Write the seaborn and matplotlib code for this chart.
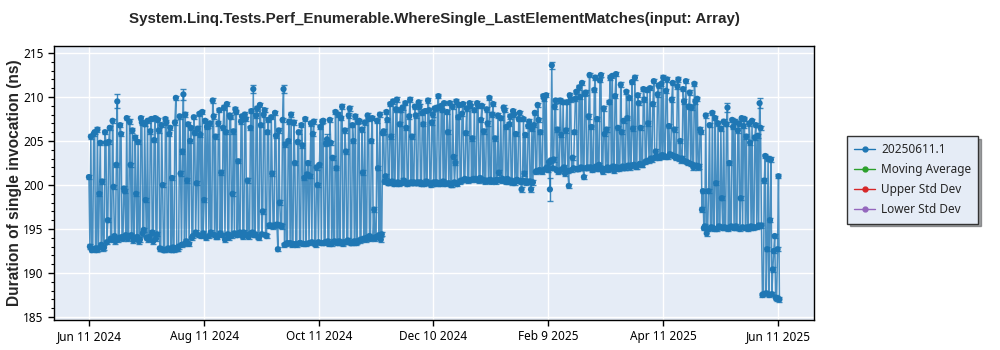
import matplotlib
matplotlib.use("Agg")
import numpy as np
import pandas as pd
import matplotlib.pyplot as plt
from matplotlib.lines import Line2D
from matplotlib.ticker import MultipleLocator
import seaborn as sns

# ---------------- data ----------------
# two measurements per day: "a" lists at 00:00, "b" lists at 12:00
jun24 = [200.9, 205.5, 192.7, 206.0, 192.6, 192.8, 204.8, 200.4, 192.9, 204.8,
         196.0, 206.5, 193.8, 199.8, 193.6, 209.5, 194.0, 205.8, 193.9, 199.3]
jul24 = [207.6, 194.2, 202.3, 206.2, 194.0, 199.0, 204.9, 193.8, 207.1, 194.9,
         198.3, 207.3, 194.1, 207.5, 193.6, 207.6, 194.4, 206.2, 192.7, 200.0,
         192.6, 207.1, 192.8, 206.5, 200.8, 192.6, 209.9, 192.7, 207.8, 193.2,
         210.3]
aug24 = [208.0, 200.5, 193.3, 206.5, 194.2, 205.9, 200.2, 194.3, 205.7, 208.3,
         198.3, 194.0, 206.7, 207.0, 194.4, 207.8, 205.5, 194.1, 208.5, 201.4,
         206.5, 193.8, 209.2, 194.0, 207.7, 199.0, 194.5, 208.3, 202.7, 194.6,
         207.8]
sep24 = [194.6, 207.5, 200.5, 194.4, 208.4, 210.9, 194.4, 208.7, 194.0, 206.8,
         197.0, 208.5, 194.2, 207.4, 195.4, 201.3, 195.4, 205.6, 192.7, 198.0,
         195.3, 210.9, 204.6, 193.4, 207.2, 208.0, 193.3, 202.5, 193.2, 206.0]
oct24 = [193.4, 204.5, 200.8, 193.3, 202.5, 201.0, 193.5, 207.2, 193.2, 200.0,
         202.3, 193.4, 207.3, 193.5, 205.2, 193.3, 204.8, 203.1, 193.6, 201.9,
         208.0, 193.4, 208.9, 193.5, 203.8, 193.7, 208.7, 193.4, 205.0, 207.8,
         193.6]
nov24 = [207.3, 193.8, 201.4, 207.1, 194.0, 207.5, 193.9, 207.6, 197.2, 194.1,
         201.9, 208.0, 194.4, 206.1, 201.0, 207.4, 200.3, 205.5, 209.5, 200.2,
         209.7, 200.1, 208.5, 208.8, 200.4, 206.5, 200.2, 209.7, 205.5, 200.3]
dec24 = [207.9, 200.3, 208.9, 200.1, 206.9, 208.4, 200.2, 208.5, 200.0, 208.0,
         208.7, 200.3, 210.1, 200.1, 208.5, 209.3, 200.2, 206.0, 209.3, 200.0,
         203.2, 202.5, 200.1, 209.1, 200.5, 209.2, 200.7, 208.7, 200.6, 209.0,
         205.3]
jan25 = [208.5, 200.6, 209.0, 200.8, 209.0, 206.1, 200.5, 207.0, 209.9, 200.4,
         209.2, 205.3, 200.6, 201.4, 207.6, 200.7, 208.5, 206.6, 200.4, 207.8,
         200.3, 208.0, 205.8, 200.5, 208.2, 199.5, 207.5, 205.7, 200.4, 207.2,
         199.5]
feb25 = [200.3, 208.2, 201.6, 207.4, 206.0, 201.5, 209.8, 210.2, 201.7, 199.5,
         213.6, 202.9, 209.6, 206.3, 201.6, 205.7, 209.4, 201.3, 209.4, 199.9,
         209.7, 203.1, 206.0, 210.6, 201.8, 210.0, 211.6, 200.9]
mar25 = [210.5, 202.0, 212.5, 206.6, 201.8, 212.2, 207.5, 202.3, 212.5, 201.5,
         205.8, 206.3, 201.7, 212.2, 212.4, 201.6, 212.6, 206.5, 201.9, 206.0,
         207.3, 202.0, 207.6, 209.9, 202.2, 206.4, 212.2, 202.1, 209.3, 206.5,
         202.3]
apr25 = [209.7, 202.7, 207.0, 211.0, 202.9, 211.8, 203.8, 210.3, 203.1, 211.5,
         212.2, 203.2, 212.0, 206.7, 203.4, 211.6, 206.3, 203.2, 212.0, 205.0,
         203.0, 209.5, 211.8, 202.5, 210.5, 208.8, 202.0, 209.5, 209.8, 202.1]
may25 = [206.0, 199.3, 195.3, 194.5, 199.3, 195.1, 208.2, 195.0, 200.2, 207.0,
         195.2, 198.5, 207.2, 195.1, 208.8, 202.5, 195.3, 206.6, 207.2, 195.1,
         207.0, 198.5, 195.2, 207.5, 205.5, 195.0, 204.8, 207.3, 195.2, 206.8,
         205.6]
jun25 = [209.3, 195.4, 187.6, 203.3, 192.7, 187.5, 202.9, 190.4, 194.2, 187.1,
         201.0]

jun24b = [193.0, 192.6, 205.8, 192.8, 206.3, 199.0, 193.2, 192.8, 206.0, 193.5,
          204.9, 193.9, 207.3, 194.2, 202.3, 193.8, 206.8, 194.1, 199.6, 194.3]
jul24b = [193.9, 207.2, 194.3, 193.7, 205.4, 194.1, 193.6, 207.6, 194.5, 206.9,
          194.0, 193.8, 206.1, 194.6, 205.1, 193.9, 207.4, 192.8, 206.8, 192.6,
          207.5, 192.7, 205.8, 192.6, 192.9, 207.1, 192.8, 193.0, 201.3, 203.8,
          193.3]
aug24b = [193.6, 206.9, 205.0, 194.0, 207.7, 194.6, 206.4, 208.1, 194.2, 194.5,
          207.3, 206.6, 194.2, 194.6, 209.6, 194.3, 194.1, 207.0, 194.5, 194.3,
          208.8, 206.0, 194.4, 207.9, 194.2, 206.1, 208.6, 194.3, 194.5, 207.2,
          194.1]
sep24b = [208.0, 194.3, 194.1, 206.5, 194.6, 194.3, 207.9, 194.1, 209.1, 194.4,
          208.0, 194.3, 206.0, 195.4, 207.7, 195.3, 208.2, 195.5, 206.2, 195.4,
          207.4, 193.2, 193.3, 205.0, 193.4, 193.2, 207.1, 193.3, 204.9, 193.4]
oct24b = [206.8, 193.3, 207.5, 201.2, 193.4, 207.0, 205.8, 193.3, 202.0, 193.5,
          206.6, 207.2, 193.4, 204.7, 193.6, 207.4, 193.3, 193.5, 208.3, 193.4,
          193.6, 207.6, 193.3, 206.2, 193.5, 207.9, 193.4, 206.8, 193.6, 193.4,
          207.2]
nov24b = [193.7, 206.3, 193.9, 193.8, 207.9, 194.2, 205.0, 194.0, 193.9, 207.3,
          194.3, 193.8, 205.9, 200.4, 208.3, 200.2, 209.2, 200.4, 200.1, 208.6,
          200.3, 206.9, 200.2, 200.5, 209.3, 200.1, 207.8, 200.3, 200.2, 208.9]
dec24b = [200.2, 209.4, 200.3, 208.2, 200.1, 200.4, 209.6, 200.2, 207.1, 200.3,
          200.1, 208.8, 200.2, 209.0, 200.4, 200.1, 208.3, 200.2, 200.0, 208.9,
          200.3, 209.5, 207.7, 200.4, 208.1, 200.6, 205.9, 200.5, 209.3, 200.6,
          200.7]
jan25b = [200.7, 209.3, 200.5, 207.4, 200.6, 200.4, 208.6, 200.5, 200.6, 208.0,
          200.5, 200.4, 207.9, 200.6, 200.5, 208.8, 200.4, 200.7, 206.9, 200.5,
          208.4, 200.3, 200.6, 207.5, 200.4, 200.5, 201.3, 200.3, 206.7, 200.4,
          206.4]
feb25b = [206.8, 201.5, 209.1, 201.7, 201.6, 210.1, 201.8, 202.0, 202.6, 202.8,
          201.9, 208.9, 201.7, 201.5, 209.6, 201.8, 202.0, 206.2, 201.6, 210.2,
          201.7, 201.9, 209.8, 201.8, 211.1, 202.0, 201.9, 210.4]
mar25b = [201.9, 207.8, 202.0, 201.7, 210.8, 202.1, 201.8, 211.9, 201.9, 208.7,
          201.8, 202.0, 209.4, 201.9, 202.1, 210.1, 202.0, 201.8, 211.4, 202.1,
          201.9, 210.6, 202.2, 202.0, 211.7, 202.3, 202.1, 210.2, 202.4, 202.3,
          210.9]
apr25b = [202.6, 210.8, 202.8, 203.0, 209.2, 203.1, 203.3, 211.3, 203.2, 203.4,
          203.3, 210.7, 203.2, 203.5, 209.7, 203.3, 203.1, 211.2, 203.0, 202.8,
          210.9, 202.7, 202.6, 208.9, 202.4, 202.3, 211.5, 202.2, 202.0, 206.3]
may25b = [197.2, 195.1, 207.9, 195.0, 206.8, 195.2, 195.1, 207.6, 195.0, 195.3,
          206.4, 195.1, 195.2, 206.9, 195.0, 195.2, 207.4, 195.1, 195.3, 206.2,
          195.0, 207.6, 206.7, 195.1, 195.2, 207.0, 195.3, 195.1, 205.4, 195.2,
          195.4]
jun25b = [206.5, 187.5, 200.5, 187.7, 203.0, 196.0, 187.6, 192.5, 187.2, 192.7,
          187.0]

month_starts = ["2024-06-11", "2024-07-01", "2024-08-01", "2024-09-01",
                "2024-10-01", "2024-11-01", "2024-12-01", "2025-01-01",
                "2025-02-01", "2025-03-01", "2025-04-01", "2025-05-01",
                "2025-06-01"]
values_a = [jun24, jul24, aug24, sep24, oct24, nov24, dec24, jan25,
            feb25, mar25, apr25, may25, jun25]
values_b = [jun24b, jul24b, aug24b, sep24b, oct24b, nov24b, dec24b, jan25b,
            feb25b, mar25b, apr25b, may25b, jun25b]

# error bars: a few larger ones, the rest small
default_err = 0.25
big_err_dates = ["2024-06-26", "2024-07-31", "2024-09-06", "2024-09-22",
                 "2024-10-15", "2025-02-10", "2025-02-11", "2025-06-01",
                 "2025-05-15"]
big_err_vals = [0.8, 0.6, 0.5, 0.5, 0.6, 1.3, 0.4, 0.6, 0.5]

legend_labels = ["20250611.1", "Moving Average", "Upper Std Dev", "Lower Std Dev"]
legend_colors = ["#1f77b4", "#2ca02c", "#d62728", "#9467bd"]

tick_dates = ["2024-06-11", "2024-08-11", "2024-10-11", "2024-12-10",
              "2025-02-09", "2025-04-11", "2025-06-11"]

title = "System.Linq.Tests.Perf_Enumerable.WhereSingle_LastElementMatches(input: Array)"
ylabel = "Duration of single invocation (ns)"

# ---------------- build frame ----------------
frames = []
for start, va, vb in zip(month_starts, values_a, values_b):
    frames.append(pd.DataFrame({
        "date": pd.date_range(start, periods=len(va), freq="D"),
        "value": va,
    }))
    frames.append(pd.DataFrame({
        "date": pd.date_range(pd.Timestamp(start) + pd.Timedelta(hours=12),
                              periods=len(vb), freq="D"),
        "value": vb,
    }))
df = pd.concat(frames, ignore_index=True).sort_values("date").reset_index(drop=True)
df["err"] = default_err
for d, e in zip(big_err_dates, big_err_vals):
    df.loc[df["date"] == pd.Timestamp(d), "err"] = e

# ---------------- style ----------------
sns.set_theme(style="ticks", rc={
    "axes.facecolor": "#E5ECF6",
    "axes.edgecolor": "black",
    "axes.linewidth": 1.0,
    "grid.color": "white",
    "grid.linewidth": 1.0,
    "xtick.color": "black",
    "ytick.color": "black",
    "xtick.direction": "out",
    "ytick.direction": "out",
})
plt.rcParams["font.family"] = ["Noto Sans", "DejaVu Sans"]

blue = legend_colors[0]

fig = plt.figure(figsize=(10, 3.5), dpi=100)
ax = fig.add_axes([0.054, 0.0857, 0.760, 0.783])

ax.errorbar(df["date"], df["value"], yerr=df["err"], fmt="none",
            ecolor=blue, elinewidth=1.0, capsize=2.5, capthick=1.0,
            alpha=0.85, zorder=2)
sns.lineplot(data=df, x="date", y="value", ax=ax, color=blue,
             linewidth=1.1, alpha=0.8, zorder=3, legend=False)
sns.scatterplot(data=df, x="date", y="value", ax=ax, color=blue,
                s=20, edgecolor="none", linewidth=0, zorder=4, legend=False)

# axes ranges
t0 = pd.Timestamp("2024-06-11")
ax.set_xlim(t0 - pd.Timedelta(days=18.5), t0 + pd.Timedelta(days=383.8))
ax.set_ylim(184.66, 215.8)

ticks = [pd.Timestamp(d) for d in tick_dates]
ax.set_xticks(ticks)
ax.set_xticklabels([f"{d:%b} {d.day} {d:%Y}" for d in ticks], fontsize=8.5)
ax.yaxis.set_major_locator(MultipleLocator(5))
ax.yaxis.set_minor_locator(MultipleLocator(1))
ax.tick_params(axis="y", which="major", length=4, width=1, labelsize=8.5)
ax.tick_params(axis="y", which="minor", length=2, width=0.8)
ax.tick_params(axis="x", which="major", length=4, width=1, pad=3)
ax.grid(True, which="major", color="white", linewidth=1.0)
ax.set_axisbelow(True)
ax.set_xlabel("")
ax.set_ylabel("")
for s in ax.spines.values():
    s.set_visible(True)
    s.set_color("black")

fig.text(0.434, 0.947, title, ha="center", va="center",
         fontsize=10.9, fontweight="bold",
         family=["Liberation Sans", "DejaVu Sans"])
fig.text(0.015, 0.478, ylabel, ha="center", va="center", rotation=90,
         fontsize=11.2, fontweight="bold",
         family=["Liberation Sans", "DejaVu Sans"])

handles = [Line2D([0], [0], color=c, marker="o", markersize=3.5, linewidth=1.0)
           for c in legend_colors]
leg = fig.legend(handles, legend_labels, loc="upper left",
                 bbox_to_anchor=(0.847, 0.611), borderaxespad=0,
                 frameon=True, fancybox=False,
                 shadow=True, framealpha=1, edgecolor="#333333",
                 fontsize=8.5, handlelength=1.8, labelspacing=0.6,
                 borderpad=0.6, handletextpad=0.5)
leg.get_frame().set_linewidth(1.0)

fig.savefig("out.png", dpi=100, facecolor="white")
